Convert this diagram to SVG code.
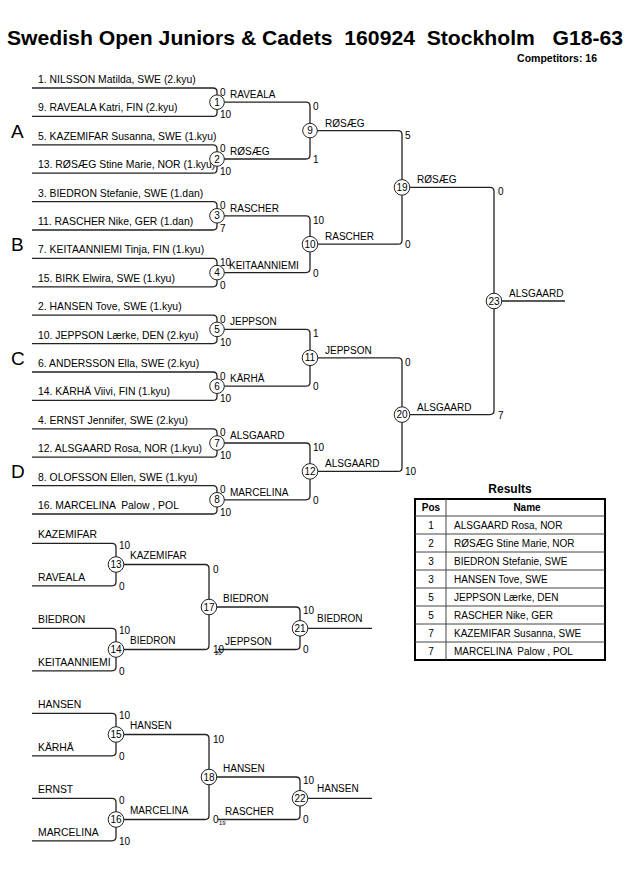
<svg xmlns="http://www.w3.org/2000/svg" width="630" height="891" viewBox="0 0 630 891">
<style>
text{font-family:"Liberation Sans",Arial,sans-serif;fill:#000;white-space:pre}
.ln{fill:none;stroke:#222;stroke-width:1.3}
.c{fill:#fff;stroke:#222;stroke-width:1}
.e{font-size:10px}
.en{font-size:10.4px}
.s{font-size:10px}
.w{font-size:10px}
.n{font-size:10px;text-anchor:middle}
.g{font-size:19px}
.tiny{font-size:6px}
.tb{fill:none;stroke:#000;stroke-width:2}
.tl{fill:none;stroke:#444;stroke-width:1}
</style>
<rect width="630" height="891" fill="#fff"/>
<text x="7" y="45" font-size="20" font-weight="bold" textLength="616" lengthAdjust="spacingAndGlyphs" xml:space="preserve">Swedish Open Juniors &amp; Cadets  160924  Stockholm   G18-63</text>
<text x="597" y="62" font-size="10.5" font-weight="bold" text-anchor="end">Competitors: 16</text>

<g id="groups">
<text class="g" x="11" y="138">A</text>
<text class="g" x="11" y="251">B</text>
<text class="g" x="11" y="365">C</text>
<text class="g" x="11" y="478">D</text>
</g>

<g id="connectors">
<path class="ln" d="M32,88 H213 Q217,88 217,92 V112.4 Q217,116.4 213,116.4 H32"/>
<path class="ln" d="M32,144.8 H213 Q217,144.8 217,148.8 V169.2 Q217,173.2 213,173.2 H32"/>
<path class="ln" d="M32,201.6 H213 Q217,201.6 217,205.6 V226 Q217,230 213,230 H32"/>
<path class="ln" d="M32,258.4 H213 Q217,258.4 217,262.4 V282.8 Q217,286.8 213,286.8 H32"/>
<path class="ln" d="M32,315.2 H213 Q217,315.2 217,319.2 V339.6 Q217,343.6 213,343.6 H32"/>
<path class="ln" d="M32,372 H213 Q217,372 217,376 V396.4 Q217,400.4 213,400.4 H32"/>
<path class="ln" d="M32,428.8 H213 Q217,428.8 217,432.8 V453.2 Q217,457.2 213,457.2 H32"/>
<path class="ln" d="M32,485.6 H213 Q217,485.6 217,489.6 V510 Q217,514 213,514 H32"/>
<path class="ln" d="M217,102.2 H306 Q310,102.2 310,106.2 V155 Q310,159 306,159 H217"/>
<path class="ln" d="M217,215.8 H306 Q310,215.8 310,219.8 V268.6 Q310,272.6 306,272.6 H217"/>
<path class="ln" d="M217,329.4 H306 Q310,329.4 310,333.4 V382.2 Q310,386.2 306,386.2 H217"/>
<path class="ln" d="M217,443 H306 Q310,443 310,447 V495.8 Q310,499.8 306,499.8 H217"/>
<path class="ln" d="M310,130.6 H398 Q402,130.6 402,134.6 V240.2 Q402,244.2 398,244.2 H310"/>
<path class="ln" d="M310,357.8 H398 Q402,357.8 402,361.8 V467.4 Q402,471.4 398,471.4 H310"/>
<path class="ln" d="M402,187.4 H490 Q494,187.4 494,191.4 V410.6 Q494,414.6 490,414.6 H402"/>
<path class="ln" d="M494,301 H565"/>

<path class="ln" d="M32,543.3 H112 Q116,543.3 116,547.3 V581.8 Q116,585.8 112,585.8 H32"/>
<path class="ln" d="M32,628.3 H112 Q116,628.3 116,632.3 V666.8 Q116,670.8 112,670.8 H32"/>
<path class="ln" d="M116,564.5 H205 Q209,564.5 209,568.5 V645.5 Q209,649.5 205,649.5 H116"/>
<path class="ln" d="M209,607 H296 Q300,607 300,611 V645.5 Q300,649.5 296,649.5 H218"/>
<path class="ln" d="M300,628.3 H372"/>

<path class="ln" d="M32,713.3 H112 Q116,713.3 116,717.3 V751.8 Q116,755.8 112,755.8 H32"/>
<path class="ln" d="M32,798.3 H112 Q116,798.3 116,802.3 V836.8 Q116,840.8 112,840.8 H32"/>
<path class="ln" d="M116,734.5 H205 Q209,734.5 209,738.5 V815.5 Q209,819.5 205,819.5 H116"/>
<path class="ln" d="M209,777 H296 Q300,777 300,781 V815.5 Q300,819.5 296,819.5 H218"/>
<path class="ln" d="M300,798.3 H372"/>
</g>

<g id="entries">
<text class="en" x="38" y="83">1. NILSSON Matilda, SWE (2.kyu)</text>
<text class="en" x="38" y="111.4">9. RAVEALA Katri, FIN (2.kyu)</text>
<text class="en" x="38" y="139.8">5. KAZEMIFAR Susanna, SWE (1.kyu)</text>
<text class="en" x="38" y="168.2">13. RØSÆG Stine Marie, NOR (1.kyu)</text>
<text class="en" x="38" y="196.6">3. BIEDRON Stefanie, SWE (1.dan)</text>
<text class="en" x="38" y="225">11. RASCHER Nike, GER (1.dan)</text>
<text class="en" x="38" y="253.4">7. KEITAANNIEMI Tinja, FIN (1.kyu)</text>
<text class="en" x="38" y="281.8">15. BIRK Elwira, SWE (1.kyu)</text>
<text class="en" x="38" y="310.2">2. HANSEN Tove, SWE (1.kyu)</text>
<text class="en" x="38" y="338.6">10. JEPPSON Lærke, DEN (2.kyu)</text>
<text class="en" x="38" y="367">6. ANDERSSON Ella, SWE (2.kyu)</text>
<text class="en" x="38" y="395.4">14. KÄRHÄ Viivi, FIN (1.kyu)</text>
<text class="en" x="38" y="423.8">4. ERNST Jennifer, SWE (2.kyu)</text>
<text class="en" x="38" y="452.2">12. ALSGAARD Rosa, NOR (1.kyu)</text>
<text class="en" x="38" y="480.6">8. OLOFSSON Ellen, SWE (1.kyu)</text>
<text class="en" x="38" y="509" xml:space="preserve">16. MARCELINA  Palow , POL</text>
<text class="en" x="38" y="538.3">KAZEMIFAR</text>
<text class="en" x="38" y="580.8">RAVEALA</text>
<text class="en" x="38" y="623.3">BIEDRON</text>
<text class="en" x="38" y="665.8">KEITAANNIEMI</text>
<text class="en" x="38" y="708.3">HANSEN</text>
<text class="en" x="38" y="750.8">KÄRHÄ</text>
<text class="en" x="38" y="793.3">ERNST</text>
<text class="en" x="38" y="835.8">MARCELINA</text>
</g>

<g id="m1"><circle class="c" cx="217" cy="102.2" r="7.3"/><text class="n" x="217" y="105.7">1</text><text class="s" x="220" y="95.5">0</text><text class="s" x="220" y="118.4">10</text><text class="w" x="230" y="98.2">RAVEALA</text></g>
<g id="m2"><circle class="c" cx="217" cy="159" r="7.3"/><text class="n" x="217" y="162.5">2</text><text class="s" x="220" y="152.3">0</text><text class="s" x="220" y="175.2">10</text><text class="w" x="230" y="155">RØSÆG</text></g>
<g id="m3"><circle class="c" cx="217" cy="215.8" r="7.3"/><text class="n" x="217" y="219.3">3</text><text class="s" x="220" y="209.1">0</text><text class="s" x="220" y="232">7</text><text class="w" x="230" y="211.8">RASCHER</text></g>
<g id="m4"><circle class="c" cx="217" cy="272.6" r="7.3"/><text class="n" x="217" y="276.1">4</text><text class="s" x="220" y="265.9">10</text><text class="s" x="220" y="288.8">0</text><text class="w" x="229" y="268.6">KEITAANNIEMI</text></g>
<g id="m5"><circle class="c" cx="217" cy="329.4" r="7.3"/><text class="n" x="217" y="332.9">5</text><text class="s" x="220" y="322.7">0</text><text class="s" x="220" y="345.6">10</text><text class="w" x="230" y="325.4">JEPPSON</text></g>
<g id="m6"><circle class="c" cx="217" cy="386.2" r="7.3"/><text class="n" x="217" y="389.7">6</text><text class="s" x="220" y="379.5">0</text><text class="s" x="220" y="402.4">10</text><text class="w" x="230" y="382.2">KÄRHÄ</text></g>
<g id="m7"><circle class="c" cx="217" cy="443" r="7.3"/><text class="n" x="217" y="446.5">7</text><text class="s" x="220" y="436.3">0</text><text class="s" x="220" y="459.2">10</text><text class="w" x="230" y="439">ALSGAARD</text></g>
<g id="m8"><circle class="c" cx="217" cy="499.8" r="7.3"/><text class="n" x="217" y="503.3">8</text><text class="s" x="220" y="493.1">0</text><text class="s" x="220" y="516">10</text><text class="w" x="230" y="495.8">MARCELINA</text></g>

<g id="m9"><circle class="c" cx="310" cy="130.6" r="7.3"/><text class="n" x="310" y="134.1">9</text><text class="s" x="313" y="110.2">0</text><text class="s" x="313" y="163">1</text><text class="w" x="325" y="126.6">RØSÆG</text></g>
<g id="m10"><circle class="c" cx="310" cy="244.2" r="7.8"/><text class="n" x="310" y="247.7">10</text><text class="s" x="313" y="223.8">10</text><text class="s" x="313" y="276.6">0</text><text class="w" x="325" y="240.2">RASCHER</text></g>
<g id="m11"><circle class="c" cx="310" cy="357.8" r="7.8"/><text class="n" x="310" y="361.3">11</text><text class="s" x="313" y="337.4">1</text><text class="s" x="313" y="390.2">0</text><text class="w" x="325" y="353.8">JEPPSON</text></g>
<g id="m12"><circle class="c" cx="310" cy="471.4" r="7.8"/><text class="n" x="310" y="474.9">12</text><text class="s" x="313" y="451">10</text><text class="s" x="313" y="503.8">0</text><text class="w" x="325" y="467.4">ALSGAARD</text></g>

<g id="m19"><circle class="c" cx="402" cy="187.4" r="7.8"/><text class="n" x="402" y="190.9">19</text><text class="s" x="405" y="138.6">5</text><text class="s" x="405" y="248.2">0</text><text class="w" x="417" y="183.4">RØSÆG</text></g>
<g id="m20"><circle class="c" cx="402" cy="414.6" r="7.8"/><text class="n" x="402" y="418.1">20</text><text class="s" x="405" y="365.8">0</text><text class="s" x="405" y="475.4">10</text><text class="w" x="417" y="410.6">ALSGAARD</text></g>
<g id="m23"><circle class="c" cx="494" cy="301" r="7.8"/><text class="n" x="494" y="304.5">23</text><text class="s" x="498" y="195.4">0</text><text class="s" x="498" y="418.6">7</text><text class="w" x="509" y="297">ALSGAARD</text></g>

<g id="m13"><circle class="c" cx="116" cy="564.5" r="7.8"/><text class="n" x="116" y="568">13</text><text class="s" x="119" y="549">10</text><text class="s" x="119" y="589.8">0</text><text class="w" x="130" y="558.5">KAZEMIFAR</text></g>
<g id="m14"><circle class="c" cx="116" cy="649.5" r="7.8"/><text class="n" x="116" y="653">14</text><text class="s" x="119" y="634">10</text><text class="s" x="119" y="674.8">0</text><text class="w" x="130" y="643.5">BIEDRON</text></g>
<g id="m17"><circle class="c" cx="209" cy="607" r="7.8"/><text class="n" x="209" y="610.5">17</text><text class="s" x="213" y="572.5">0</text><text class="s" x="213" y="652.5">10</text><text class="tiny" x="215" y="655">20</text><text class="w" x="223" y="602">BIEDRON</text></g>
<g id="m21"><circle class="c" cx="300" cy="628.3" r="7.8"/><text class="n" x="300" y="631.8">21</text><text class="s" x="303" y="614">10</text><text class="s" x="303" y="652.5">0</text><text class="w" x="225" y="645">JEPPSON</text><text class="w" x="317" y="622.3">BIEDRON</text></g>

<g id="m15"><circle class="c" cx="116" cy="734.5" r="7.8"/><text class="n" x="116" y="738">15</text><text class="s" x="119" y="719">10</text><text class="s" x="119" y="759.8">0</text><text class="w" x="130" y="728.5">HANSEN</text></g>
<g id="m16"><circle class="c" cx="116" cy="819.5" r="7.8"/><text class="n" x="116" y="823">16</text><text class="s" x="119" y="804">0</text><text class="s" x="119" y="844.8">10</text><text class="w" x="130" y="813.5">MARCELINA</text></g>
<g id="m18"><circle class="c" cx="209" cy="777" r="7.8"/><text class="n" x="209" y="780.5">18</text><text class="s" x="213" y="742.5">10</text><text class="s" x="213" y="822.5">0</text><text class="tiny" x="219" y="825">19</text><text class="w" x="223" y="772">HANSEN</text></g>
<g id="m22"><circle class="c" cx="300" cy="798.3" r="7.8"/><text class="n" x="300" y="801.8">22</text><text class="s" x="303" y="784">10</text><text class="s" x="303" y="822.5">0</text><text class="w" x="225" y="815">RASCHER</text><text class="w" x="317" y="792.3">HANSEN</text></g>

<g id="results">
<text x="510" y="493" font-size="12" font-weight="bold" text-anchor="middle">Results</text>
<rect class="tb" x="415" y="499" width="190" height="161"/>
<path class="tl" d="M446,499 V660 M415,516 H605 M415,534 H605 M415,552 H605 M415,570 H605 M415,588 H605 M415,606 H605 M415,624 H605 M415,642 H605"/>
<text x="431" y="511" font-size="10" font-weight="bold" text-anchor="middle">Pos</text>
<text x="527" y="511" font-size="10" font-weight="bold" text-anchor="middle">Name</text>
<text class="n" x="431" y="528.5">1</text><text class="e" x="454" y="528.5">ALSGAARD Rosa, NOR</text>
<text class="n" x="431" y="546.5">2</text><text class="e" x="454" y="546.5">RØSÆG Stine Marie, NOR</text>
<text class="n" x="431" y="564.5">3</text><text class="e" x="454" y="564.5">BIEDRON Stefanie, SWE</text>
<text class="n" x="431" y="582.5">3</text><text class="e" x="454" y="582.5">HANSEN Tove, SWE</text>
<text class="n" x="431" y="600.5">5</text><text class="e" x="454" y="600.5">JEPPSON Lærke, DEN</text>
<text class="n" x="431" y="618.5">5</text><text class="e" x="454" y="618.5">RASCHER Nike, GER</text>
<text class="n" x="431" y="636.5">7</text><text class="e" x="454" y="636.5">KAZEMIFAR Susanna, SWE</text>
<text class="n" x="431" y="654.5">7</text><text class="e" x="454" y="654.5" xml:space="preserve">MARCELINA  Palow , POL</text>
</g>
</svg>
